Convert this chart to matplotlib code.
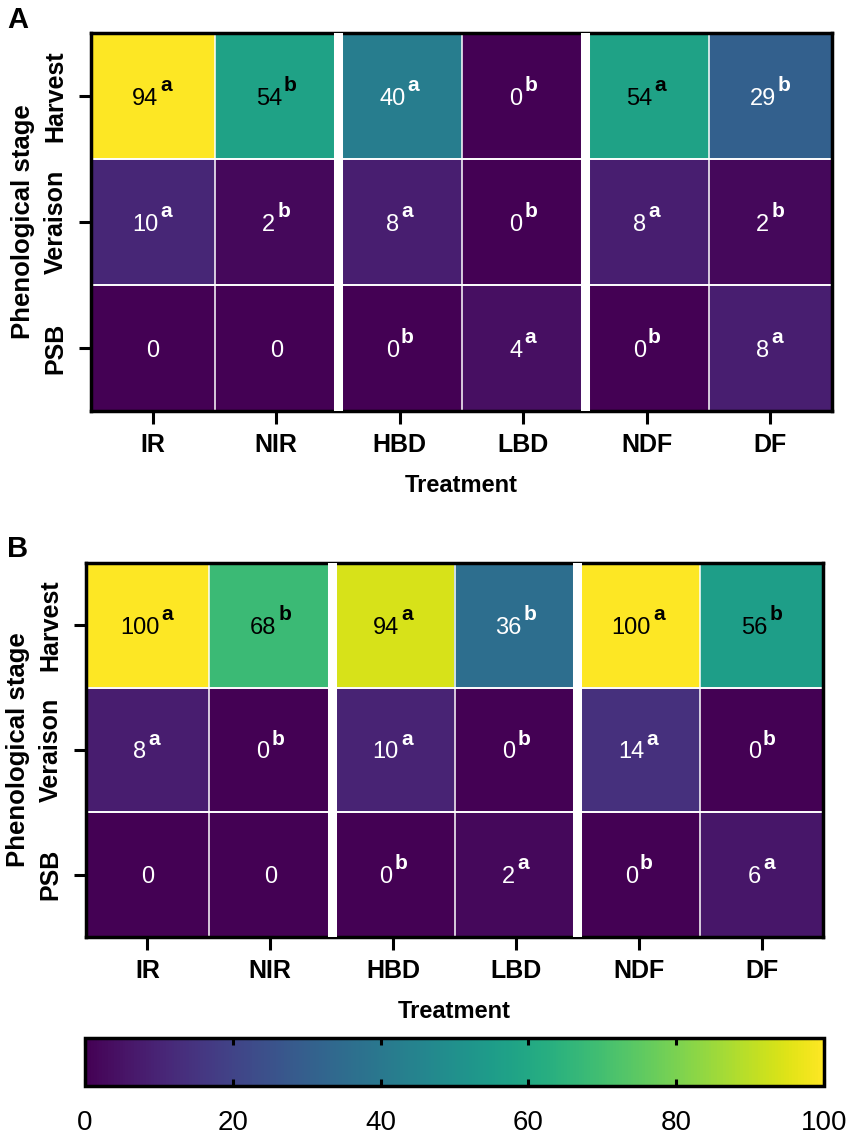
import numpy as np
import matplotlib
matplotlib.use("Agg")
import matplotlib.pyplot as plt
from matplotlib.colors import Normalize
from matplotlib.cm import ScalarMappable

plt.rcParams['font.family'] = ['Liberation Sans', 'DejaVu Sans']

# data
treatments = ["IR", "NIR", "HBD", "LBD", "NDF", "DF"]
stages = ["Harvest", "Veraison", "PSB"]

valsA = [[94, 54, 40, 0, 54, 29],
         [10, 2, 8, 0, 8, 2],
         [0, 0, 0, 4, 0, 8]]
lettersA = [["a", "b", "a", "b", "a", "b"],
            ["a", "b", "a", "b", "a", "b"],
            ["", "", "b", "a", "b", "a"]]

valsB = [[100, 68, 94, 36, 100, 56],
         [8, 0, 10, 0, 14, 0],
         [0, 0, 0, 2, 0, 6]]
lettersB = [["a", "b", "a", "b", "a", "b"],
            ["a", "b", "a", "b", "a", "b"],
            ["", "", "b", "a", "b", "a"]]

cbar_ticks = [0, 20, 40, 60, 80, 100]


def heatpanel(ax, vals, letters):
    vals = np.array(vals, dtype=float)
    vmax = vals.max()
    ax.imshow(vals, cmap="viridis", vmin=0, vmax=vmax, aspect="auto",
              interpolation="nearest")

    # thin white cell borders + wide gaps between treatment pairs
    for x in np.arange(0.5, len(treatments) - 1, 1.0):
        ax.axvline(x, color="white", lw=1.1, zorder=2)
    for x in [1.5, 3.5]:
        ax.axvline(x, color="white", lw=6.5, zorder=3)
    for y in np.arange(0.5, len(stages) - 1, 1.0):
        ax.axhline(y, color="white", lw=1.4, zorder=2)

    for i in range(vals.shape[0]):
        for j in range(vals.shape[1]):
            v = vals[i, j]
            col = "black" if v > 0.5 * vmax else "white"
            lt = letters[i][j]
            xpos = j - 0.06 if lt else j
            t = ax.text(xpos, i + 0.02, "%d" % v, ha="center", va="center",
                        fontsize=17, color=col, zorder=4)
            if lt:
                ax.annotate(lt, xy=(1, 0.86), xycoords=t, xytext=(1.5, 0),
                            textcoords="offset points", ha="left",
                            va="baseline", fontsize=15, fontweight="bold",
                            color=col, zorder=4)

    ax.set_xticks(range(len(treatments)))
    ax.set_xticklabels(treatments, fontsize=18, fontweight="bold")
    ax.set_yticks(range(len(stages)))
    ax.set_yticklabels(stages, fontsize=18, fontweight="bold",
                       rotation=90, va="center")
    ax.tick_params(axis="both", length=9, width=2.2, direction="out")
    ax.tick_params(axis="x", pad=7)
    ax.tick_params(axis="y", pad=8)
    for s in ax.spines.values():
        s.set_linewidth(2.5)
    ax.set_xlabel("Treatment", fontsize=17, fontweight="bold", labelpad=12)
    ax.set_ylabel("Phenological stage", fontsize=18.5, fontweight="bold",
                  labelpad=6)


fig = plt.figure(figsize=(8.51, 11.36), dpi=100)

axA = fig.add_axes([91 / 851, 1 - 411 / 1136, 741 / 851, 378 / 1136])
axB = fig.add_axes([86 / 851, 1 - 937 / 1136, 737 / 851, 374 / 1136])
cax = fig.add_axes([85 / 851, 1 - 1086 / 1136, 739 / 851, 48 / 1136])

heatpanel(axA, valsA, lettersA)
heatpanel(axB, valsB, lettersB)

fig.text(18 / 851, 1 - 20 / 1136, "A", fontsize=21, fontweight="bold",
         ha="center", va="center")
fig.text(18 / 851, 1 - 549 / 1136, "B", fontsize=21, fontweight="bold",
         ha="center", va="center")

sm = ScalarMappable(norm=Normalize(0, 100), cmap="viridis")
cb = fig.colorbar(sm, cax=cax, orientation="horizontal")
cb.set_ticks(cbar_ticks)
cb.ax.tick_params(which="both", direction="in", length=5, width=2.2,
                  top=True, bottom=True, pad=17)
cb.ax.set_xticklabels([str(t) for t in cbar_ticks], fontsize=20)
cb.outline.set_linewidth(2.5)
cb.ax.minorticks_off()

fig.savefig("out.png", dpi=100)
